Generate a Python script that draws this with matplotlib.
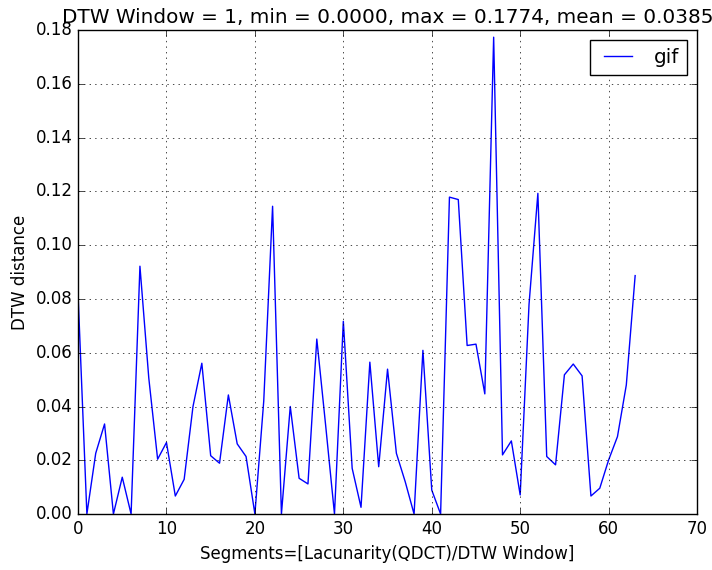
import numpy as np
import matplotlib
matplotlib.use("Agg")
import matplotlib.pyplot as plt

# DTW distance per segment
segments = np.arange(64)
dtw_gif = [
    0.0820, 0.0000, 0.0226, 0.0335, 0.0000, 0.0137, 0.0000, 0.0922, 0.0506, 0.0204,
    0.0266, 0.0067, 0.0129, 0.0400, 0.0561, 0.0217, 0.0189, 0.0443, 0.0261, 0.0214,
    0.0000, 0.0420, 0.1145, 0.0000, 0.0400, 0.0133, 0.0112, 0.0651, 0.0330, 0.0000,
    0.0717, 0.0170, 0.0025, 0.0565, 0.0176, 0.0539, 0.0226, 0.0120, 0.0000, 0.0609,
    0.0089, 0.0000, 0.1179, 0.1170, 0.0627, 0.0632, 0.0447, 0.1774, 0.0220, 0.0272,
    0.0071, 0.0780, 0.1193, 0.0214, 0.0183, 0.0518, 0.0558, 0.0514, 0.0067, 0.0096,
    0.0201, 0.0288, 0.0480, 0.0887,
]
series_label = "gif"
window = 1

plt.style.use("classic")
fig, ax = plt.subplots(figsize=(7.12, 5.70), dpi=100)
fig.subplots_adjust(left=0.1096, right=0.979, top=0.947, bottom=0.0982)

vals = np.array(dtw_gif)
ax.plot(segments, vals, color="b", lw=1.0, label=series_label)
ax.set_xlim(0, 70)
ax.set_ylim(0, 0.18)
ax.grid(True)
ax.set_xlabel("Segments=[Lacunarity(QDCT)/DTW Window]")
ax.set_ylabel("DTW distance")
ax.set_title("DTW Window = %d, min = %.4f, max = %.4f, mean = %.4f"
             % (window, vals.min(), vals.max(), 0.0385))
ax.legend(loc="upper right")

fig.savefig("out.png", dpi=100)
